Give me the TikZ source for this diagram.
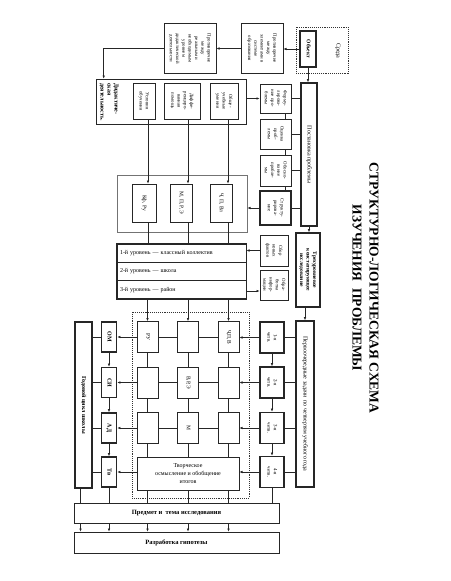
\documentclass[tikz,border=0pt]{standalone}
\usepackage{fontspec}
\setmainfont{Liberation Serif}
\usepackage{graphicx}
\usetikzlibrary{arrows.meta,shapes.multipart}

\newcommand{\vt}[1]{\rotatebox{-90}{\begin{tabular}{@{}c@{}}#1\end{tabular}}}
\newcommand{\vtl}[1]{\rotatebox{-90}{\begin{tabular}{@{}l@{}}#1\end{tabular}}}
\newcommand{\rowstrut}{\rule[-7.5pt]{0pt}{17.6pt}}

\begin{document}
\begin{tikzpicture}[x=1pt, y=-1pt, >={Latex[length=3.2pt, width=2.6pt]}, line width=0.6pt, draw=black!85]
    \tikzstyle{box}=[draw=black!85, line width=0.6pt, inner sep=0pt, font=\fontsize{4.8}{6.3}\selectfont]
    \tikzstyle{bbox}=[box, line width=1.5pt]
    \tikzstyle{dbox}=[draw=black!80, densely dotted, line width=0.9pt, inner sep=0pt]
    \tikzstyle{mbox}=[box, minimum width=21pt, minimum height=31pt, font=\fontsize{5.5}{6}\selectfont]
    \tikzstyle{qbox}=[bbox, minimum width=24pt, minimum height=31pt, font=\fontsize{5}{6.5}\selectfont]
    \tikzstyle{lbox}=[bbox, minimum width=15pt, minimum height=30pt, font=\fontsize{6}{7}\selectfont\bfseries]
    \tikzstyle{sbox}=[box, minimum width=31pt]

    \useasboundingbox (0,0) rectangle (450,581);

    \node[font=\fontsize{13.5}{17}\selectfont\bfseries] (title) at (364.5,288) {\vt{СТРУКТУРНО-ЛОГИЧЕСКАЯ СХЕМА\\ИЗУЧЕНИЯ\ \ ПРОБЛЕМЫ}};

    % object and contradictions
    \node[dbox, minimum width=52pt, minimum height=46pt] (sreda) at (322,50) {};
    \node[font=\fontsize{6}{7}\selectfont] (sredaT) at (338,51) {\vt{Среда}};
    \node[bbox, minimum width=16pt, minimum height=36pt, font=\fontsize{5.5}{6}\selectfont\bfseries] (obj) at (308,49) {\vt{Объект}};
    \node[box, minimum width=42pt, minimum height=50pt] (prot1) at (262,48.5) {\vt{Противоречие\\между\\элементами в\\системе\\образования}};
    \node[box, minimum width=52pt, minimum height=50pt] (prot2) at (190,48.5) {\vt{Противоречие\\между\\реальным и\\необходимым\\уровнем\\дидактической\\деятельности}};

    % didactic activity
    \node[box, minimum width=150pt, minimum height=45pt] (did) at (171,101.5) {};
    \node[font=\fontsize{6}{7}\selectfont\bfseries] (didT) at (109,102) {\vtl{Дидактиче-\\ская\\деятельность.}};
    \node[box, minimum width=22pt, minimum height=36pt] (usl) at (144,101) {\vt{Условия\\обучения}};
    \node[box, minimum width=36pt, minimum height=36pt] (diff) at (182,101) {\vt{Диффе-\\ренциро-\\ванная\\помощь}};
    \node[box, minimum width=28pt, minimum height=36pt] (obsh) at (224,101) {\vt{Обще-\\учебные\\умения}};

    % problem statement
    \node[bbox, minimum width=16pt, minimum height=143pt, font=\fontsize{6}{7}\selectfont] (post) at (309,154.5) {\vt{Постановка проблемы}};
    \node[sbox, minimum height=29pt] (form) at (275.5,98.5) {\vt{Форму-\\лирова-\\ние про-\\блемы}};
    \node[sbox, minimum height=30pt] (ocen) at (275.5,134) {\vt{Оценка\\проб-\\лемы}};
    \node[sbox, minimum height=31pt] (obos) at (275.5,170.5) {\vt{Обосно-\\вание\\пробле-\\мы}};
    \node[sbox, bbox, minimum height=34pt] (strukt) at (275.5,208) {\vt{Структу-\\рирова-\\ние}};

    \node[box, draw=black!55, minimum width=130pt, minimum height=57pt] (cont) at (182,203.5) {};
    \node[box, minimum width=24pt, minimum height=38pt, font=\fontsize{5.5}{6}\selectfont] (kf) at (144,203) {\vt{Кф, Ру}};
    \node[box, minimum width=22pt, minimum height=38pt, font=\fontsize{5.5}{6}\selectfont] (mp) at (181,203) {\vt{М, П, Р, Э}};
    \node[box, minimum width=22pt, minimum height=38pt, font=\fontsize{5.5}{6}\selectfont] (chp) at (221,203) {\vt{Ч, П, Вл}};

    % levels
    \node[box, rectangle split, rectangle split parts=3, text width=123pt, align=left, inner xsep=3pt, inner ysep=0pt, font=\fontsize{6}{7}\selectfont] (lev) at (181.5,271.5)
      {\rowstrut 1-й уровень — классный коллектив\nodepart{two}\rowstrut 2-й уровень — школа\nodepart{three}\rowstrut 3-й уровень — район};
    \draw[line width=1.5pt] (lev.north west) rectangle (lev.south east);
    \node[box, minimum width=28pt, minimum height=31pt] (sbor) at (274,250.5) {\vt{Сбор\\новых\\фактов}};
    \node[box, minimum width=28pt, minimum height=30pt] (obr) at (274,285) {\vt{Обра-\\ботка\\инфор-\\мации}};
    \node[bbox, minimum width=24pt, minimum height=74pt, font=\fontsize{5.5}{6.5}\selectfont\bfseries] (treh) at (308,270) {\vt{Трехуровневое\\констатирующее\\исследование}};

    % school year
    \node[dbox, minimum width=117pt, minimum height=186pt] (mat) at (190.5,405) {};
    \node[mbox] (m11) at (147.5,337) {\vt{РУ}};
    \node[mbox] (m12) at (188,337) {};
    \node[mbox] (m13) at (228.5,337) {\vt{Ч,П,В}};
    \node[mbox] (m21) at (147.5,382.5) {};
    \node[mbox] (m22) at (188,382.5) {\vt{В,Р,Э}};
    \node[mbox] (m23) at (228.5,382.5) {};
    \node[mbox] (m31) at (147.5,428) {};
    \node[mbox] (m32) at (188,428) {\vt{М}};
    \node[mbox] (m33) at (228.5,428) {};
    \node[box, minimum width=102pt, minimum height=33pt, align=center, font=\fontsize{6}{8}\selectfont] (tvor) at (188,473.5) {Творческое\\осмысление и обобщение\\итогов};

    \node[lbox] (om) at (109,337) {\vt{ОМ}};
    \node[lbox] (si) at (109,382.5) {\vt{СИ}};
    \node[lbox] (ad) at (109,428) {\vt{АД}};
    \node[lbox] (tv) at (109,472) {\vt{Тв}};
    \node[bbox, minimum width=17pt, minimum height=166pt, font=\fontsize{6}{7}\selectfont\bfseries] (god) at (83.5,405) {\vt{Годовой цикл школы}};

    \node[qbox] (q1) at (272,337.5) {\vt{1-я\\четв.}};
    \node[qbox] (q2) at (272,382.5) {\vt{2-я\\четв.}};
    \node[qbox] (q3) at (272,428) {\vt{3-я\\четв.}};
    \node[qbox] (q4) at (272,472) {\vt{4-я\\четв.}};
    \node[bbox, minimum width=18pt, minimum height=166pt, font=\fontsize{6}{7}\selectfont] (prv) at (305,404) {\vt{Первоочередные задачи\ \ по четвертям учебного года}};

    \node[box, minimum width=205pt, minimum height=20pt, font=\fontsize{6.5}{7}\selectfont\bfseries] (pred) at (176.5,513) {Предмет и\ \ тема исследования};
    \node[box, minimum width=205pt, minimum height=21pt, font=\fontsize{6.5}{7}\selectfont\bfseries] (gip) at (176.5,542.5) {Разработка гипотезы};

    % connectors, top part
    \draw[->] (obj.west) -- (obj.west -| prot1.east);
    \draw[->] (prot1.west) -- (prot1.west -| prot2.east);
    \draw[->] (prot2.west) -| ([xshift=8pt]did.north west);
    \draw[->] (obj.south) -- (obj.south |- post.north);
    \draw[->] (form.west -| did.east) -- (form.west);
    \draw (form.east) -- (form.east -| post.west);
    \draw (ocen.east) -- (ocen.east -| post.west);
    \draw (obos.east) -- (obos.east -| post.west);
    \draw (strukt.east) -- (strukt.east -| post.west);
    \draw ([xshift=9.5pt]form.south) -- ([xshift=9.5pt]ocen.north);
    \draw ([xshift=9.5pt]ocen.south) -- ([xshift=9.5pt]obos.north);
    \draw ([xshift=9.5pt]obos.south) -- ([xshift=9.5pt]strukt.north);
    \draw[->] (strukt.west) -- (strukt.west -| cont.east);
    \draw[->] ([xshift=4pt]usl.south) -- ([xshift=4pt]usl.south |- kf.north);
    \draw[->] ([xshift=6pt]diff.south) -- ([xshift=6pt]diff.south |- mp.north);
    \draw[->] ([xshift=4pt]obsh.south) -- ([xshift=4pt]obsh.south |- chp.north);
    \draw ([xshift=4pt]kf.south) -- ([xshift=4pt]kf.south |- lev.north);
    \draw ([xshift=7pt]mp.south) -- ([xshift=7pt]mp.south |- lev.north);
    \draw ([xshift=7pt]chp.south) -- ([xshift=7pt]chp.south |- lev.north);
    \draw[->] (post.south) -- (post.south |- treh.north);
    \draw[->] (sbor.west) -- (sbor.west -| lev.east);
    \draw[->] ([yshift=-6pt]obr.west -| lev.east) -- ([yshift=-6pt]obr.west);
    \draw[->] (treh.south -| prv.north) -- (prv.north);

    % connectors, school year
    \draw[->] (m11.north |- lev.south) -- (m11.north);
    \draw[->] (m12.north |- lev.south) -- (m12.north);
    \draw[->] (m13.north |- lev.south) -- (m13.north);
    \draw (m11.south) -- (m21.north);
    \draw (m21.south) -- (m31.north);
    \draw (m31.south) -- (m31.south |- tvor.north);
    \draw (m12.south) -- (m22.north);
    \draw (m22.south) -- (m32.north);
    \draw (m32.south) -- (m32.south |- tvor.north);
    \draw (m13.south) -- (m23.north);
    \draw (m23.south) -- (m33.north);
    \draw (m33.south) -- (m33.south |- tvor.north);

    \draw[->] (q1.west) -- (q1.west -| m13.east);
    \draw (m13.west) -- (m12.east);
    \draw (m12.west) -- (m11.east);
    \draw[->] (m11.west) -- (m11.west -| om.east);
    \draw[->] (q2.west) -- (q2.west -| m23.east);
    \draw (m23.west) -- (m22.east);
    \draw (m22.west) -- (m21.east);
    \draw[->] (m21.west) -- (m21.west -| si.east);
    \draw[->] (q3.west) -- (q3.west -| m33.east);
    \draw (m33.west) -- (m32.east);
    \draw (m32.west) -- (m31.east);
    \draw[->] (m31.west) -- (m31.west -| ad.east);
    \draw[->] (q4.west) -- (q4.west -| tvor.east);
    \draw[->] (tv.east -| tvor.west) -- (tv.east);

    \draw[->] (om.south) -- (si.north);
    \draw[->] (si.south) -- (ad.north);
    \draw[->] (ad.south) -- (tv.north);
    \draw (om.west) -- (om.west -| god.east);
    \draw (si.west) -- (si.west -| god.east);
    \draw (ad.west) -- (ad.west -| god.east);
    \draw (tv.west) -- (tv.west -| god.east);

    \draw[->] (q1.south) -- (q2.north);
    \draw[->] (q2.south) -- (q3.north);
    \draw[->] (q3.south) -- (q4.north);
    \draw (q1.east) -- (q1.east -| prv.west);
    \draw (q2.east) -- (q2.east -| prv.west);
    \draw (q3.east) -- (q3.east -| prv.west);
    \draw (q4.east) -- (q4.east -| prv.west);

    % connectors, bottom
    \draw ([xshift=-3pt]god.south) -- ([xshift=-3pt]god.south |- pred.north);
    \draw (tv.south) -- (tv.south |- pred.north);
    \draw (m31.south |- tvor.south) -- (m31.south |- pred.north);
    \draw (tvor.south) -- (tvor.south |- pred.north);
    \draw (m33.south |- tvor.south) -- (m33.south |- pred.north);
    \draw (q4.south) -- (q4.south |- pred.north);
    \draw[->] ([xshift=-3pt]god.south |- pred.south) -- ([xshift=-3pt]god.south |- gip.north);
    \draw[->] (tv.south |- pred.south) -- (tv.south |- gip.north);
    \draw[->] (m31.south |- pred.south) -- (m31.south |- gip.north);
    \draw[->] (tvor.south |- pred.south) -- (tvor.south |- gip.north);
    \draw[->] (m33.south |- pred.south) -- (m33.south |- gip.north);
  \end{tikzpicture}
\end{document}
